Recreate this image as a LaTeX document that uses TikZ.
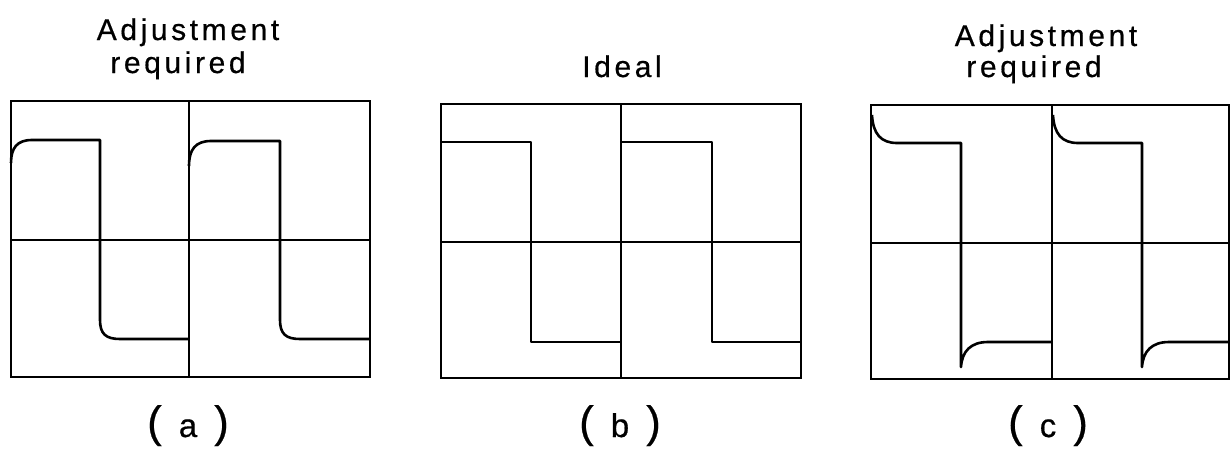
\documentclass[tikz,border=0pt]{standalone}
\usepackage{fontspec}
\newfontfamily\lblfont[LetterSpace=12,FakeBold=0.5]{Liberation Sans}
\newfontfamily\capfont[FakeBold=0.5]{Liberation Sans}
\newcommand{\panelcap}[1]{{\fontsize{22}{22}\selectfont(}\hspace{8.5pt}{\fontsize{16.5}{16.5}\selectfont #1}\hspace{8.5pt}{\fontsize{22}{22}\selectfont)}}
\begin{document}
\begin{tikzpicture}[x=0.5pt,y=-0.5pt,
  frame/.style={line width=1.2pt,line join=miter},
  wave/.style={line width=1.3pt,line join=round},
  title/.style={font=\lblfont\fontsize{15}{15}\selectfont,anchor=base,inner sep=0pt},
  sub/.style={font=\capfont,anchor=base,inner sep=0pt}]
\useasboundingbox (0,0) rectangle (1230,450);
% ---------- panel a ----------
\draw[frame] (11,101) rectangle (370,377);
\draw[frame] (189,101) -- (189,377);
\draw[frame] (11,240) -- (370,240);
\draw[wave] (11,163) .. controls (11,148) and (17,140) .. (32,140) -- (100,140) -- (100,320)
  .. controls (100,334) and (106,339) .. (120,339) -- (189,339);
\draw[wave] (189,166) .. controls (189,150) and (195,141) .. (211,141) -- (280,141) -- (280,320)
  .. controls (280,334) and (286,339) .. (300,339) -- (370,339);
\node[title] (ta1) at (188,40) {Adjustment};
\node[title] (ta2) at (178,73) {required};
\node[sub] (la) at (188,437) {\panelcap{a}};
% ---------- panel b ----------
\draw[frame] (441,104) rectangle (801,378);
\draw[frame] (621,104) -- (621,378);
\draw[frame] (441,242) -- (801,242);
\draw[wave] (441,142) -- (531,142) -- (531,342) -- (621,342);
\draw[wave] (621,142) -- (712,142) -- (712,342) -- (801,342);
\node[title] (tb) at (622,77) {Ideal};
\node[sub] (lb) at (620,437) {\panelcap{b}};
% ---------- panel c ----------
\draw[frame] (871,105) rectangle (1229,379);
\draw[frame] (1052,105) -- (1052,379);
\draw[frame] (871,243) -- (1229,243);
\draw[wave] (872,115) .. controls (873,134) and (881,143) .. (897,143) -- (961,143) -- (961,367)
  .. controls (962,351) and (971,342) .. (988,342) -- (1052,342);
\draw[wave] (1053,115) .. controls (1054,134) and (1062,143) .. (1078,143) -- (1142,143) -- (1142,367)
  .. controls (1143,351) and (1152,342) .. (1169,342) -- (1229,342);
\node[title] (tc1) at (1046,46) {Adjustment};
\node[title] (tc2) at (1034,77) {required};
\node[sub] (lc) at (1048,437) {\panelcap{c}};
\end{tikzpicture}
\end{document}
